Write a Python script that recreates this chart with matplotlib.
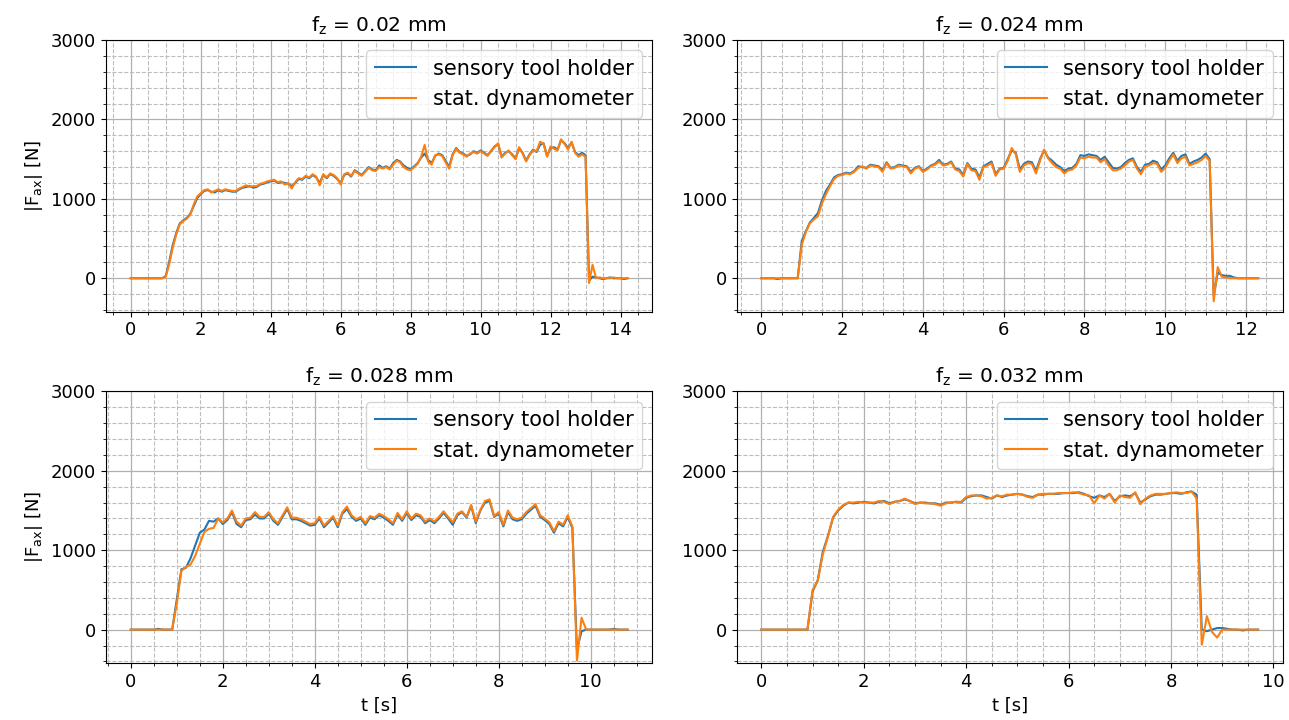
import numpy as np
import matplotlib
matplotlib.use("Agg")
import matplotlib.pyplot as plt
from matplotlib.ticker import AutoMinorLocator

# sampling step of the recorded force signals [s]
DT = 0.1

TITLES = [r"f$_\mathrm{z}$ = 0.02 mm", r"f$_\mathrm{z}$ = 0.024 mm",
          r"f$_\mathrm{z}$ = 0.028 mm", r"f$_\mathrm{z}$ = 0.032 mm"]
LABELS = ["sensory tool holder", "stat. dynamometer"]

# f_z = 0.02 mm
sens_02 = [
    0, 0, 0, 0, 0, 0, 0, 0, 0, 0,
    30, 210, 420, 570, 690, 730, 760, 810, 910, 1010,
    1060, 1100, 1110, 1090, 1080, 1110, 1090, 1110, 1100, 1090,
    1090, 1120, 1140, 1150, 1160, 1140, 1150, 1180, 1190, 1210,
    1220, 1230, 1200, 1210, 1200, 1190, 1160, 1200, 1250, 1240,
    1280, 1260, 1300, 1270, 1200, 1300, 1260, 1310, 1290, 1250,
    1200, 1300, 1320, 1280, 1360, 1330, 1300, 1350, 1400, 1370,
    1360, 1420, 1390, 1410, 1380, 1450, 1490, 1470, 1420, 1390,
    1370, 1410, 1450, 1520, 1570, 1490, 1450, 1540, 1570, 1550,
    1480, 1400, 1560, 1640, 1590, 1570, 1540, 1560, 1600, 1580,
    1610, 1580, 1550, 1600, 1660, 1690, 1530, 1580, 1600, 1560,
    1510, 1640, 1580, 1480, 1560, 1620, 1590, 1680, 1700, 1540,
    1640, 1650, 1620, 1740, 1700, 1640, 1710, 1590, 1550, 1580,
    1550, -30, 20, 10, 0, -10, 0, 10, 0, 0,
    0, -10, 0,
]
dyn_02 = [
    0, 0, 0, 0, 0, 0, 0, 0, 0, 0,
    20, 180, 390, 550, 680, 720, 750, 800, 930, 1030,
    1070, 1110, 1120, 1080, 1100, 1120, 1100, 1120, 1110, 1100,
    1100, 1130, 1150, 1170, 1150, 1160, 1160, 1190, 1200, 1220,
    1230, 1240, 1210, 1220, 1180, 1200, 1130, 1210, 1260, 1250,
    1290, 1270, 1310, 1280, 1170, 1310, 1270, 1320, 1300, 1260,
    1180, 1310, 1330, 1290, 1350, 1320, 1290, 1340, 1390, 1360,
    1350, 1400, 1380, 1400, 1370, 1430, 1480, 1460, 1400, 1370,
    1360, 1400, 1440, 1530, 1680, 1470, 1430, 1550, 1560, 1540,
    1460, 1380, 1550, 1630, 1580, 1560, 1530, 1570, 1590, 1570,
    1600, 1570, 1540, 1610, 1650, 1700, 1520, 1570, 1610, 1550,
    1500, 1650, 1570, 1470, 1550, 1610, 1600, 1720, 1690, 1530,
    1660, 1630, 1610, 1750, 1690, 1620, 1720, 1580, 1530, 1560,
    1530, -60, 170, 0, 10, 0, 0, 0, 10, 0,
    0, 0, 0,
]

# f_z = 0.024 mm
sens_024 = [
    0, 0, 0, 0, -10, 0, 0, 0, 0, 0,
    470, 590, 700, 760, 820, 980, 1100, 1180, 1270, 1300,
    1310, 1330, 1320, 1350, 1410, 1400, 1390, 1430, 1420, 1410,
    1360, 1460, 1390, 1400, 1430, 1420, 1410, 1340, 1390, 1410,
    1350, 1380, 1420, 1440, 1490, 1430, 1440, 1470, 1380, 1370,
    1300, 1450, 1380, 1370, 1270, 1410, 1440, 1470, 1310, 1380,
    1390, 1500, 1610, 1580, 1370, 1440, 1470, 1460, 1350, 1500,
    1610, 1520, 1480, 1430, 1400, 1350, 1380, 1390, 1440, 1550,
    1540, 1560, 1550, 1540, 1490, 1530, 1460, 1390, 1380, 1400,
    1450, 1490, 1510, 1400, 1340, 1430, 1440, 1480, 1460, 1370,
    1420, 1510, 1580, 1480, 1540, 1560, 1440, 1470, 1490, 1520,
    1570, 1500, -220, 70, 40, 30, 30, 10, 0, 0,
    0, 0, 0, 0,
]
dyn_024 = [
    0, 0, 0, 0, 0, 0, 0, 0, 0, 0,
    420, 580, 690, 740, 780, 940, 1060, 1160, 1250, 1290,
    1300, 1320, 1310, 1340, 1390, 1410, 1380, 1420, 1410, 1400,
    1340, 1450, 1380, 1390, 1420, 1410, 1400, 1320, 1380, 1400,
    1340, 1370, 1410, 1430, 1470, 1420, 1430, 1460, 1370, 1350,
    1280, 1440, 1360, 1350, 1240, 1400, 1420, 1450, 1290, 1370,
    1380, 1480, 1640, 1560, 1340, 1420, 1450, 1440, 1320, 1480,
    1620, 1510, 1450, 1400, 1380, 1320, 1360, 1370, 1420, 1520,
    1510, 1530, 1520, 1520, 1460, 1500, 1420, 1360, 1360, 1380,
    1420, 1470, 1490, 1380, 1310, 1410, 1420, 1450, 1440, 1340,
    1390, 1480, 1560, 1450, 1510, 1530, 1420, 1440, 1460, 1490,
    1540, 1480, -290, 140, 20, 10, 0, 0, 0, 0,
    0, 0, 0, 0,
]

# f_z = 0.028 mm
sens_028 = [
    0, 0, 0, 0, 0, 0, 10, 0, 0, 0,
    380, 760, 780, 900, 1060, 1220, 1260, 1370, 1360, 1400,
    1330, 1380, 1480, 1330, 1290, 1380, 1390, 1450, 1400, 1400,
    1460, 1370, 1320, 1420, 1520, 1390, 1390, 1370, 1340, 1310,
    1320, 1400, 1290, 1350, 1410, 1290, 1460, 1520, 1420, 1370,
    1400, 1320, 1410, 1390, 1440, 1410, 1370, 1320, 1450, 1370,
    1470, 1380, 1440, 1420, 1340, 1380, 1340, 1400, 1470, 1400,
    1320, 1440, 1480, 1410, 1560, 1340, 1500, 1600, 1620, 1420,
    1460, 1300, 1480, 1390, 1370, 1390, 1460, 1510, 1560, 1420,
    1380, 1330, 1220, 1340, 1300, 1420, 1280, -250, -20, 0,
    0, 0, 0, 0, 0, 10, 0, 0, 0,
]
dyn_028 = [
    0, 0, 0, 0, 0, 0, 0, 0, 0, 0,
    330, 740, 790, 820, 930, 1080, 1230, 1270, 1280, 1400,
    1350, 1400, 1500, 1360, 1310, 1400, 1410, 1480, 1420, 1420,
    1480, 1390, 1340, 1440, 1540, 1410, 1410, 1390, 1360, 1330,
    1340, 1420, 1310, 1370, 1430, 1310, 1480, 1550, 1440, 1390,
    1420, 1340, 1430, 1410, 1460, 1430, 1390, 1340, 1470, 1390,
    1490, 1400, 1460, 1440, 1360, 1400, 1360, 1420, 1490, 1420,
    1350, 1460, 1490, 1420, 1570, 1360, 1510, 1620, 1640, 1430,
    1480, 1320, 1500, 1410, 1390, 1410, 1480, 1530, 1580, 1440,
    1400, 1350, 1240, 1360, 1320, 1440, 1300, -390, 150, 0,
    0, 0, 0, 0, 0, 0, 0, 0, 0,
]

# f_z = 0.032 mm
sens_032 = [
    0, 0, 0, 0, 0, 0, 0, 0, 0, 0,
    480, 620, 980, 1180, 1410, 1500, 1560, 1600, 1590, 1600,
    1610, 1600, 1590, 1610, 1620, 1590, 1610, 1620, 1640, 1620,
    1590, 1600, 1600, 1590, 1590, 1570, 1600, 1600, 1610, 1600,
    1660, 1680, 1690, 1690, 1670, 1650, 1690, 1670, 1690, 1700,
    1710, 1700, 1680, 1670, 1700, 1700, 1710, 1710, 1710, 1720,
    1720, 1720, 1730, 1710, 1680, 1660, 1690, 1670, 1710, 1620,
    1680, 1690, 1680, 1720, 1600, 1640, 1680, 1700, 1700, 1710,
    1720, 1720, 1710, 1730, 1740, 1700, 0, -20, 0, 20,
    20, 10, 0, 0, -10, 0, 0, 0,
]
dyn_032 = [
    0, 0, 0, 0, 0, 0, 0, 0, 0, 0,
    500, 610, 950, 1170, 1420, 1510, 1570, 1600, 1600, 1610,
    1600, 1600, 1600, 1620, 1610, 1580, 1610, 1620, 1650, 1620,
    1580, 1600, 1590, 1590, 1580, 1560, 1590, 1600, 1610, 1610,
    1670, 1690, 1690, 1680, 1650, 1660, 1690, 1680, 1700, 1700,
    1710, 1700, 1670, 1660, 1700, 1710, 1710, 1710, 1720, 1720,
    1720, 1730, 1720, 1700, 1690, 1590, 1690, 1650, 1710, 1600,
    1690, 1670, 1660, 1730, 1580, 1650, 1690, 1710, 1710, 1710,
    1720, 1730, 1720, 1720, 1740, 1650, -190, 170, -30, -100,
    0, 0, 0, 0, 0, 0, 0, 0,
]

SERIES = [(sens_02, dyn_02), (sens_024, dyn_024), (sens_028, dyn_028), (sens_032, dyn_032)]

fig, axes = plt.subplots(2, 2, figsize=(12.89, 7.2), dpi=100)
fig.subplots_adjust(left=0.0822, right=0.9953, bottom=0.0792, top=0.9444,
                    wspace=0.154, hspace=0.294)

for i, ax in enumerate(axes.flat):
    sens, dyn = SERIES[i]
    t = np.arange(len(sens)) * DT
    ax.plot(t, sens, color="tab:blue", lw=1.5, label=LABELS[0])
    ax.plot(t, dyn, color="tab:orange", lw=1.5, label=LABELS[1])

    ax.set_ylim(-420, 3000)
    ax.set_yticks([0, 1000, 2000, 3000])
    ax.xaxis.set_minor_locator(AutoMinorLocator())
    ax.yaxis.set_minor_locator(AutoMinorLocator())
    ax.grid(which="major", linestyle="-", color="#b0b0b0", lw=0.9)
    ax.grid(which="minor", linestyle="--", color="#bdbdbd", lw=0.8)
    ax.tick_params(labelsize=13)
    ax.set_title(TITLES[i], fontsize=14.5)
    ax.legend(loc="upper right", fontsize=15)

    if i % 2 == 0:
        ax.set_ylabel(r"|F$_{\mathrm{ax}}$| [N]", fontsize=13)
    if i >= 2:
        ax.set_xlabel("t [s]", fontsize=13)

fig.savefig("out.png", dpi=100)
